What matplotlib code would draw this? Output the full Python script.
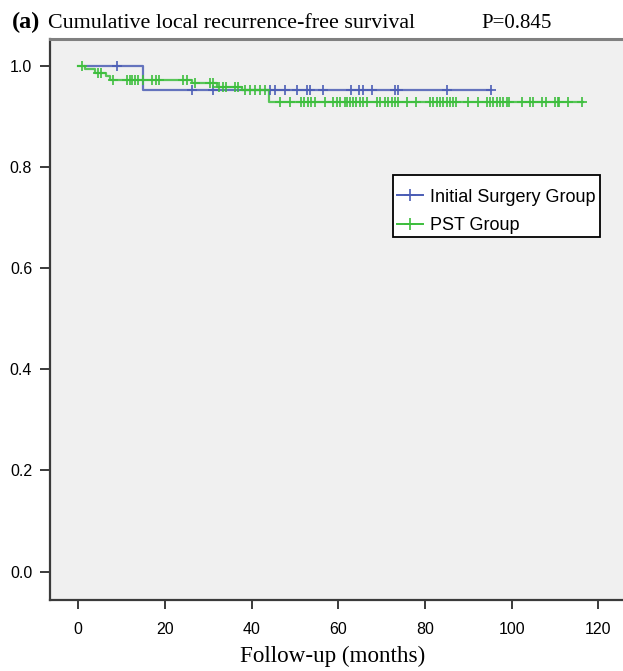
import numpy as np
import matplotlib
matplotlib.use("Agg")
import matplotlib.pyplot as plt
from matplotlib.lines import Line2D
from matplotlib.patches import Rectangle

# ---------------- data ----------------
blue_label = "Initial Surgery Group"
green_label = "PST Group"

blue_step_t = [1.5, 15.0]
blue_step_s = [1.0, 0.952]
blue_end = 95.2
blue_censor = [9.0, 26.3, 31.2, 44.2, 45.4, 47.7, 50.5, 52.7, 53.5, 56.5,
               62.9, 64.8, 65.8, 67.7, 73.1, 73.8, 85.0, 95.2]

green_step_t = [0.0, 1.5, 3.9, 6.5, 7.3, 26.2, 31.9, 37.7, 43.9]
green_step_s = [1.0, 0.993, 0.986, 0.979, 0.972, 0.965, 0.958, 0.951, 0.929]
green_end = 116.5
green_censor = [0.9, 4.6, 5.2, 8.1, 11.2, 12.0, 12.5, 13.1, 13.7, 15.0, 17.1,
                17.9, 18.6, 24.2, 25.0, 26.9, 30.4, 31.2, 32.5, 33.5, 34.2,
                36.2, 36.9, 38.5, 39.6, 40.8, 41.9, 43.1, 46.6, 48.9, 51.4,
                52.2, 52.9, 53.7, 54.6, 56.9, 58.8, 59.6, 60.4, 61.5, 61.9,
                62.7, 63.5, 64.2, 65.0, 65.8, 66.6, 68.9, 69.6, 70.8, 71.5,
                72.3, 73.1, 73.8, 75.9, 77.9, 81.2, 81.9, 82.7, 83.5, 84.2,
                85.0, 85.8, 86.5, 87.2, 90.0, 92.2, 94.3, 95.0, 95.8, 96.6,
                97.3, 98.1, 98.9, 99.5, 102.3, 104.2, 105.0, 107.0, 108.0,
                110.0, 110.6, 111.0, 113.1, 116.2]

x_ticks = [0, 20, 40, 60, 80, 100, 120]
y_ticks = [0.0, 0.2, 0.4, 0.6, 0.8, 1.0]

title_tag = "(a)"
title_text = "Cumulative local recurrence-free survival"
p_text = "P=0.845"
x_label = "Follow-up (months)"

BLUE = "#4B5DB5"
GREEN = "#3DBE3D"

# ---------------- figure ----------------
W, H = 623, 671
fig = plt.figure(figsize=(W / 100, H / 100), dpi=100)
fig.patch.set_facecolor("white")

left_px, right_px, top_px, bottom_px = 49.5, 623, 39, 600
ax = fig.add_axes([left_px / W, 1 - bottom_px / H,
                   (right_px - left_px) / W, (bottom_px - top_px) / H])
ax.set_facecolor("#F0F0F0")

ppm = 4.333
ax.set_xlim((left_px - 78.3) / ppm, (right_px - 78.3) / ppm)
ax.set_ylim((571.5 - bottom_px) / 505.8, (571.5 - top_px) / 505.8)


def km_value(ts, ss, t):
    idx = np.searchsorted(np.asarray(ts), t, side="right") - 1
    idx = np.clip(idx, 0, len(ss) - 1)
    return np.asarray(ss)[idx]


for ts, ss, tend, cens, col in [
    (blue_step_t, blue_step_s, blue_end, blue_censor, BLUE),
    (green_step_t, green_step_s, green_end, green_censor, GREEN),
]:
    tt = list(ts) + [tend]
    sv = list(ss) + [ss[-1]]
    ax.step(tt, sv, where="post", color=col, lw=1.6, alpha=0.85, zorder=3)
    c = np.asarray(cens)
    ax.plot(c, km_value(ts, ss, c), ls="none", marker="+", ms=7.5,
            mew=1.4, color=col, alpha=0.85, zorder=4)

ax.set_xticks(x_ticks)
ax.set_yticks(y_ticks)
ax.set_xticklabels([str(v) for v in x_ticks])
ax.set_yticklabels([f"{v:.1f}" for v in y_ticks])
for lab in ax.get_xticklabels() + ax.get_yticklabels():
    lab.set_fontfamily("Liberation Sans")
    lab.set_fontsize(11.5)
    lab.set_color("#000000")
ax.tick_params(axis="x", direction="out", length=6.5, width=1.4,
               color="#3a3a3a", pad=9)
ax.tick_params(axis="y", direction="out", length=7.5, width=1.4,
               color="#3a3a3a", pad=5)

for s in ["left", "bottom"]:
    ax.spines[s].set_color("#3a3a3a")
    ax.spines[s].set_linewidth(1.6)
ax.spines["top"].set_color("#808080")
ax.spines["top"].set_linewidth(2.2)
ax.spines["right"].set_visible(False)

# legend (frame drawn separately)
handles = [Line2D([], [], color=BLUE, lw=1.4, marker="+", ms=9, mew=1.2),
           Line2D([], [], color=GREEN, lw=1.4, marker="+", ms=9, mew=1.2)]
fig.patches.append(Rectangle((393.3 / W, 1 - 237.3 / H),
                             (600 - 393.3) / W, (237.3 - 175) / H,
                             transform=fig.transFigure, facecolor="white",
                             edgecolor="black", lw=1.3, zorder=5))
leg = fig.legend(handles, [blue_label, green_label], loc="upper left",
                 bbox_to_anchor=(396.7 / W, 1 - 188.5 / H),
                 bbox_transform=fig.transFigure, borderaxespad=0,
                 frameon=False,
                 prop={"family": "Liberation Sans", "size": 13},
                 handlelength=1.47, handletextpad=0.37, borderpad=0,
                 labelspacing=0.64)
leg.set_zorder(6)

# title texts
fig.text(11.7 / W, 1 - 28.3 / H, title_tag, family="Liberation Serif",
         weight="bold", fontsize=17.5, va="baseline", ha="left")
fig.text(48.3 / W, 1 - 28.3 / H, title_text, family="Liberation Serif",
         fontsize=15.8, va="baseline", ha="left")
fig.text(481.7 / W, 1 - 28.3 / H, p_text, family="Liberation Serif",
         fontsize=15.0, va="baseline", ha="left")

# x label
fig.text(333 / W, 1 - 661.7 / H, x_label, family="Liberation Serif",
         fontsize=16.7, va="baseline", ha="center")

fig.savefig("out.png", dpi=100, facecolor="white")
